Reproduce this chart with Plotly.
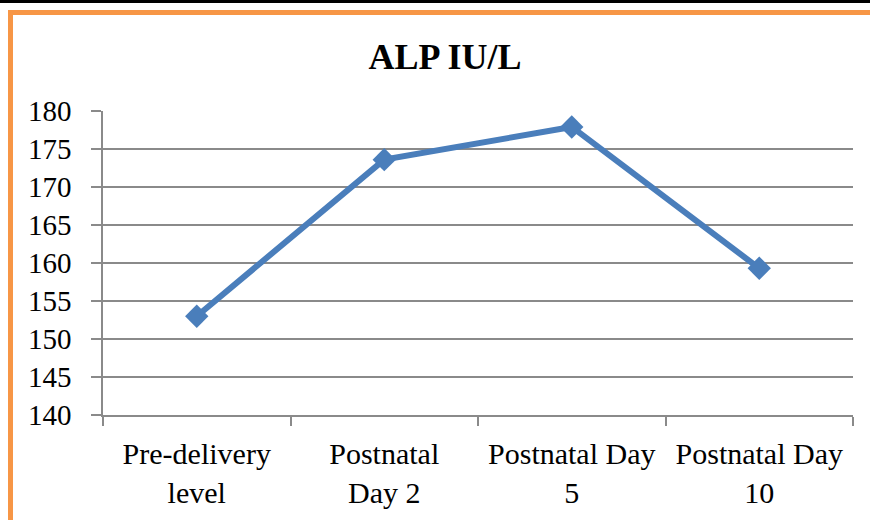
import plotly.graph_objects as go

categories = ["Pre-delivery<br>level", "Postnatal<br>Day 2", "Postnatal Day<br>5", "Postnatal Day<br>10"]
alp_values = [153.0, 173.6, 177.9, 159.3]
y_ticks = [140, 145, 150, 155, 160, 165, 170, 175, 180]

L, R, T, B = 103, 853, 111, 415
W, H = 870, 520

def px(x):
    return (x - L) / (R - L)

def py(y):
    return (B - y) / (B - T)

fig = go.Figure()
fig.add_trace(go.Scatter(
    x=categories, y=alp_values, mode="lines+markers",
    line=dict(color="#4a7ebb", width=6),
    marker=dict(symbol="diamond", size=18, color="#4a7ebb"),
    showlegend=False,
))

grid = "#8a8a8a"
font = "Liberation Serif, Times New Roman, serif"
fig.update_layout(
    width=W, height=H,
    margin=dict(l=L, r=W - R, t=T, b=H - B),
    paper_bgcolor="white", plot_bgcolor="white",
    title=dict(text="<b>ALP IU/L</b>", x=445 / W, xanchor="center",
               y=1 - 56 / H, yanchor="middle",
               font=dict(family=font, size=36, color="black")),
    font=dict(family=font, size=29, color="black"),
)
fig.update_xaxes(
    type="category", showgrid=False, showline=True, linecolor=grid, linewidth=1.5,
    ticks="outside", tickson="boundaries", ticklen=9, tickcolor=grid, tickwidth=1.5,
    tickfont=dict(family=font, size=30, color="black"),
    ticklabelstandoff=11,
    range=[-0.5, 3.5],
)
fig.update_yaxes(
    range=[140, 180], tickvals=y_ticks, showgrid=True, gridcolor=grid, gridwidth=1.5,
    showline=True, linecolor=grid, linewidth=1.5, zeroline=False,
    ticks="outside", ticklen=10, tickcolor=grid, tickwidth=1.5,
    tickfont=dict(family=font, size=29, color="black"),
    ticklabelstandoff=14,
)

# frame decoration: black top line and orange border
fig.add_shape(type="rect", xref="paper", yref="paper",
              x0=px(0), x1=px(W), y0=py(0), y1=py(3),
              fillcolor="black", line=dict(width=0), layer="above")
fig.add_shape(type="line", xref="paper", yref="paper",
              x0=px(10.5), x1=px(W), y0=py(12.5), y1=py(12.5),
              line=dict(color="#f79646", width=5), layer="above")
fig.add_shape(type="line", xref="paper", yref="paper",
              x0=px(10.5), x1=px(10.5), y0=py(10), y1=py(H),
              line=dict(color="#f79646", width=5), layer="above")

fig.write_html("out.html", config={"displayModeBar": False},
               post_script="document.body.style.margin='0';")
